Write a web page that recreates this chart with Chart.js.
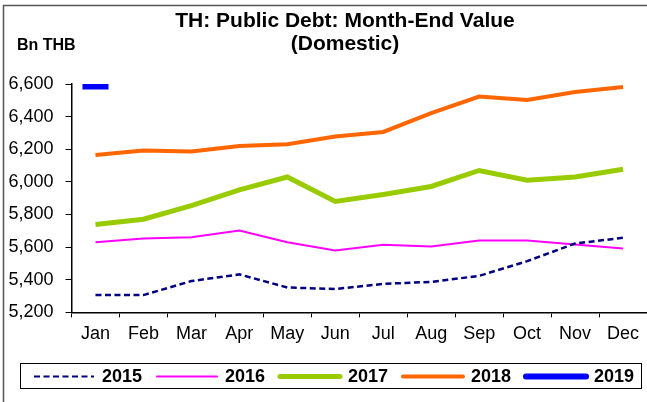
<!DOCTYPE html>
<html>
<head>
<meta charset="utf-8">
<script src="https://cdn.jsdelivr.net/npm/chart.js@4/dist/chart.umd.min.js"></script>
<style>
  html, body { margin: 0; padding: 0; background: #fff; overflow: hidden; }
  #chart { display: block; }
</style>
</head>
<body>
<canvas id="chart" width="647" height="402"></canvas>
<script>
const months = ['Jan', 'Feb', 'Mar', 'Apr', 'May', 'Jun', 'Jul', 'Aug', 'Sep', 'Oct', 'Nov', 'Dec'];
const yTicks = [5200, 5400, 5600, 5800, 6000, 6200, 6400, 6600];

const debt2015 = [5306, 5306, 5392, 5433, 5353, 5343, 5375, 5387, 5424, 5514, 5622, 5657];
const debt2016 = [5630, 5653, 5661, 5702, 5630, 5580, 5614, 5604, 5641, 5641, 5616, 5592];
const debt2017 = [5739, 5771, 5855, 5951, 6030, 5880, 5923, 5972, 6070, 6010, 6030, 6078];
const debt2018 = [6165, 6192, 6186, 6220, 6231, 6278, 6306, 6422, 6523, 6502, 6551, 6582];
const debt2019 = [6585, null, null, null, null, null, null, null, null, null, null, null];

const FONT = "'Liberation Sans', Arial, sans-serif";

// titulo + unidad
const titlePlugin = {
    id: 'titleText',
    afterDraw(chart) {
        const ctx = chart.ctx;
        ctx.save();
        // marco
        ctx.strokeStyle = '#555';
        ctx.lineWidth = 1.5;
        ctx.beginPath();
        ctx.moveTo(3.5, 402);
        ctx.lineTo(3.5, 5.5);
        ctx.lineTo(647, 5.5);
        ctx.stroke();

        ctx.fillStyle = '#000';
        ctx.textAlign = 'center';
        ctx.textBaseline = 'alphabetic';
        ctx.font = 'bold 21px ' + FONT;
        ctx.fillText('TH: Public Debt: Month-End Value', 345, 27);
        ctx.fillText('(Domestic)', 345, 50);
        ctx.textAlign = 'left';
        ctx.font = 'bold 16px ' + FONT;
        ctx.fillText('Bn THB', 17, 50);
        ctx.restore();
    }
};

// leyenda con recuadro
const legendPlugin = {
    id: 'boxLegend',
    afterDraw(chart) {
        const ctx = chart.ctx;
        ctx.save();
        ctx.strokeStyle = '#000';
        ctx.lineWidth = 1;
        ctx.strokeRect(20.5, 363.5, 621, 25);
        ctx.font = 'bold 18px ' + FONT;
        ctx.textBaseline = 'middle';
        ctx.textAlign = 'left';
        chart.data.datasets.forEach((ds, i) => {
            const x0 = 34 + i * 123;
            const y = 376.5;
            ctx.beginPath();
            ctx.strokeStyle = ds.borderColor;
            ctx.lineWidth = ds.legendWidth;
            ctx.lineCap = ds.borderDash ? 'butt' : 'round';
            ctx.setLineDash(ds.borderDash || []);
            ctx.moveTo(x0, y);
            ctx.lineTo(x0 + 60, y);
            ctx.stroke();
            ctx.setLineDash([]);
            ctx.fillStyle = '#000';
            ctx.fillText(ds.label, x0 + 68, y + 1);
        });
        ctx.restore();
    }
};

new Chart(document.getElementById('chart'), {
    type: 'line',
    data: {
        labels: months,
        datasets: [
            { label: '2015', data: debt2015, borderColor: '#000080', borderWidth: 2.5, borderDash: [6, 3.5], legendWidth: 2, pointRadius: 0 },
            { label: '2016', data: debt2016, borderColor: '#FF00FF', borderWidth: 2, legendWidth: 2, pointRadius: 0 },
            { label: '2017', data: debt2017, borderColor: '#99CC00', borderWidth: 5, legendWidth: 5, pointRadius: 0 },
            { label: '2018', data: debt2018, borderColor: '#FF6600', borderWidth: 4, legendWidth: 4, pointRadius: 0 },
            {
                label: '2019', data: debt2019, borderColor: '#0000FF', borderWidth: 6, legendWidth: 6,
                pointStyle: 'line', pointRadius: 13, pointBorderWidth: 6, pointBorderColor: '#0000FF'
            }
        ]
    },
    options: {
        responsive: false,
        animation: false,
        layout: { autoPadding: false, padding: { top: 84, left: 8, right: 0, bottom: 51 } },
        plugins: { legend: { display: false }, title: { display: false }, tooltip: { enabled: false } },
        scales: {
            x: {
                offset: true,
                grid: { offset: true, drawOnChartArea: false, tickLength: 5, color: '#000' },
                border: { color: '#000', width: 1.5 },
                ticks: { font: { size: 18, family: FONT }, color: '#000', padding: 6, maxRotation: 0, autoSkip: false }
            },
            y: {
                min: yTicks[0],
                max: yTicks[yTicks.length - 1],
                afterBuildTicks: axis => { axis.ticks = yTicks.map(v => ({ value: v })); },
                afterFit: axis => { axis.width = 63.5; },
                grid: { drawOnChartArea: false, tickLength: 6, color: '#000' },
                border: { color: '#000', width: 1.5 },
                ticks: {
                    font: { size: 18, family: FONT }, color: '#000', padding: 12,
                    callback: v => v.toLocaleString('en-US')
                }
            }
        }
    },
    plugins: [titlePlugin, legendPlugin]
});
</script>
</body>
</html>
